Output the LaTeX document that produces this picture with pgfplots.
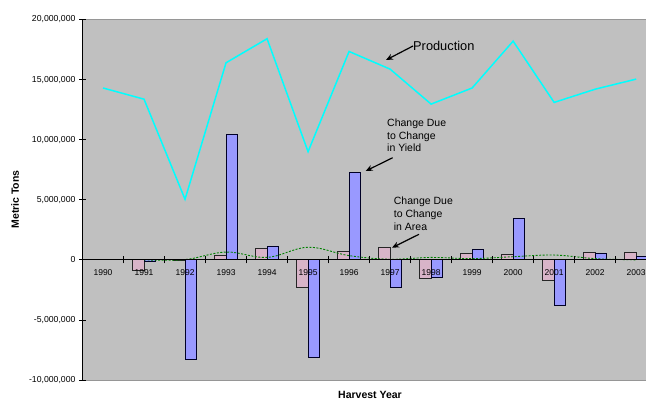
\documentclass[border=0pt]{standalone}
\usepackage{pgfplots}
\pgfplotsset{compat=1.18}
\usepackage{pgfplotstable}
\usepackage{fontspec}
\setmainfont{Liberation Sans}
\usetikzlibrary{arrows.meta}
\definecolor{bgray}{RGB}{192,192,192}
\definecolor{pinkbar}{RGB}{216,180,200}
\definecolor{bluebar}{RGB}{153,153,255}
\definecolor{prodcyan}{RGB}{0,255,255}
\definecolor{dgreen}{RGB}{0,128,0}
\definecolor{bordergray}{RGB}{150,150,150}

% index 0 = 1990 ... 13 = 2003 ; values in metric tons
\pgfplotstableread{
x prod
0 14300000
1 13370000
2 5040000
3 16400000
4 18400000
5 9000000
6 17340000
7 15870000
8 12960000
9 14300000
10 18200000
11 13100000
12 14200000
13 15040000
}\production

\pgfplotstableread{
x area
1 -880000
2 -50000
3 370000
4 930000
5 -2300000
6 670000
7 1020000
8 -1530000
9 520000
10 460000
11 -1700000
12 610000
13 650000
}\areachange

\pgfplotstableread{
x yield
1 -100000
2 -8270000
3 10400000
4 1150000
5 -8130000
6 7260000
7 -2270000
8 -1490000
9 870000
10 3460000
11 -3800000
12 540000
13 280000
}\yieldchange

\pgfplotstableread{
x inter
1 0
2 20000
3 650000
4 200000
5 1050000
6 350000
7 50000
8 200000
9 100000
10 260000
11 400000
12 100000
13 0
}\interaction

\begin{document}
\begin{tikzpicture}[x=1bp,y=1bp]
\useasboundingbox (0,0) rectangle (646,401);
\begin{axis}[
  at={(82.5bp,21bp)}, anchor=south west,
  scale only axis, width=563.5bp, height=360.5bp,
  xmin=-0.5, xmax=13.24, ymin=-10000000, ymax=20000000,
  axis background/.style={fill=bgray},
  axis on top,
  axis x line=middle, axis y line=left,
  axis line style={-, black, line width=0.8bp},
  tick style={black, line width=0.8bp},
  tick align=center, major tick length=7bp,
  xtick={0.5,1.5,...,12.5}, xticklabels={},
  extra x ticks={0,1,...,13},
  extra x tick labels={1990,1991,1992,1993,1994,1995,1996,1997,1998,1999,2000,2001,2002,2003},
  extra x tick style={major tick length=0pt, tick label style={font=\fontsize{8.5bp}{10bp}\selectfont, yshift=-6bp}},
  ytick={-10000000,-5000000,0,5000000,10000000,15000000,20000000},
  scaled y ticks=false,
  yticklabel style={font=\fontsize{8.7bp}{10bp}\selectfont, /pgf/number format/.cd, fixed, precision=0, 1000 sep={,}, assume math mode=true},
  clip=true,
]
\addplot[ybar, bar width=11.7bp, bar shift=-5.85bp, fill=pinkbar, draw=black!85, line width=0.8bp] table[x=x,y=area] {\areachange};
\addplot[ybar, bar width=11.7bp, bar shift=5.85bp, fill=bluebar, draw=black!85!blue, line width=0.8bp] table[x=x,y=yield] {\yieldchange};
\addplot[dgreen, line width=0.9bp, dash pattern=on 2bp off 1.5bp, smooth, tension=0.6, mark=none] table[x=x,y=inter] {\interaction};
\addplot[prodcyan, line width=1.5bp, mark=none] table[x=x,y=prod] {\production};
\draw[bordergray, line width=0.8bp] (rel axis cs:0,1) -- (rel axis cs:1,1);
\draw[bordergray, line width=0.8bp] (rel axis cs:0,0) -- (rel axis cs:1,0);
\end{axis}
% annotations
\node[anchor=west, inner sep=0pt, font=\fontsize{12.8bp}{15bp}\selectfont] at (413,355) {Production};
\draw[line width=1.2bp, -{Stealth[length=7bp,width=6bp]}] (413,355) -- (386,341);
\node[anchor=base west, inner sep=0pt, align=left, font=\fontsize{10.5bp}{12.7bp}\selectfont] at (387,249.2) {Change Due\\to Change\\in Yield};
\draw[line width=1.2bp, -{Stealth[length=7bp,width=6bp]}] (392.7,243.3) -- (365.7,230);
\node[anchor=base west, inner sep=0pt, align=left, font=\fontsize{10.5bp}{12.7bp}\selectfont] at (393.7,171) {Change Due\\to Change\\in Area};
\draw[line width=1.2bp, -{Stealth[length=7bp,width=6bp]}] (419,166.7) -- (392,153.3);
\node[rotate=90, font=\bfseries\fontsize{10.5bp}{12bp}\selectfont] at (15,201.5) {Metric Tons};
\node[font=\bfseries\fontsize{10.5bp}{12bp}\selectfont] at (370,6) {Harvest Year};
\end{tikzpicture}
\end{document}
